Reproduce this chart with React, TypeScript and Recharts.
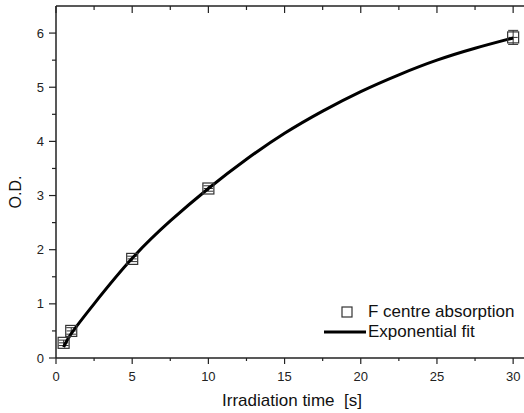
import React from 'react';
import { ComposedChart, Scatter, Line, XAxis, YAxis, ErrorBar, Legend, Label } from 'recharts';

const times = [0.5, 1, 5, 10, 30];
const odValues = [0.28, 0.5, 1.83, 3.13, 5.92];
const odErrors = [0.05, 0.06, 0.05, 0.05, 0.13];
const timeErrors = [0.3, 0.3, 0.3, 0.3, 0.3];

const fitTimes = [0.5, 1, 2.5, 5, 7.5, 10, 12.5, 15, 17.5, 20, 22.5, 25, 27.5, 30];
const fitValues = [0.2, 0.45, 1.0, 1.84, 2.53, 3.13, 3.67, 4.15, 4.56, 4.92, 5.23, 5.5, 5.72, 5.91];

const xTicks = [0, 2.5, 5, 7.5, 10, 12.5, 15, 17.5, 20, 22.5, 25, 27.5, 30];
const yTicks = [0, 0.5, 1, 1.5, 2, 2.5, 3, 3.5, 4, 4.5, 5, 5.5, 6];

const seriesNames = ['F centre absorption', 'Exponential fit'];
const xLabel = 'Irradiation time  [s]';
const yLabel = 'O.D.';

const measured = times.map((t, i) => ({ x: t, y: odValues[i], ey: odErrors[i], ex: timeErrors[i] }));
const fit = fitTimes.map((t, i) => ({ x: t, y: fitValues[i] }));

const FONT = '"Liberation Sans", Arial, sans-serif';
const AX = '#222';

const BottomTick = (props: any) => {
  const { x, y, payload } = props;
  const major = payload.value % 5 === 0;
  return (
    <g>
      <line x1={x} x2={x} y1={y} y2={y + (major ? 6 : 3)} stroke={AX} strokeWidth={1.2} />
      {major && (
        <text x={x} y={y + 23} textAnchor="middle" fontSize={13} fill="#222" fontFamily={FONT}>
          {payload.value}
        </text>
      )}
    </g>
  );
};

const TopTick = (props: any) => {
  const { x, y, payload } = props;
  const major = payload.value % 5 === 0;
  return <line x1={x} x2={x} y1={y} y2={y + (major ? 7 : 4)} stroke={AX} strokeWidth={1.2} />;
};

const LeftTick = (props: any) => {
  const { x, y, payload } = props;
  const major = payload.value % 1 === 0;
  return (
    <g>
      <line x1={x - (major ? 7 : 4)} x2={x} y1={y} y2={y} stroke={AX} strokeWidth={1.2} />
      {major && (
        <text x={x - 12} y={y + 4.5} textAnchor="end" fontSize={13} fill="#222" fontFamily={FONT}>
          {payload.value}
        </text>
      )}
    </g>
  );
};

const SquareShape = (props: any) => {
  const { cx, cy } = props;
  const s = 11;
  return <rect x={cx - s / 2} y={cy - s / 2} width={s} height={s} fill="none" stroke="#333" strokeWidth={1.2} />;
};

const renderLegend = (props: any) => {
  const items = [...(props.payload || [])].sort(
    (a: any, b: any) => seriesNames.indexOf(a.value) - seriesNames.indexOf(b.value)
  );
  return (
    <div style={{ fontFamily: FONT, fontSize: 17, color: '#111', lineHeight: '20px' }}>
      {items.map((entry: any, i: number) => (
        <div key={i} style={{ display: 'flex', alignItems: 'center', height: 20 }}>
          <svg width={44} height={20} style={{ display: 'block' }}>
            {entry.type === 'line' ? (
              <line x1={0} x2={42} y1={10} y2={10} stroke="#000" strokeWidth={3} />
            ) : (
              <rect x={18} y={5} width={10} height={10} fill="none" stroke="#333" strokeWidth={1.2} />
            )}
          </svg>
          <span>{entry.value}</span>
        </div>
      ))}
    </div>
  );
};

const XLabelContent = (props: any) => {
  const { viewBox } = props;
  return (
    <text x={292} y={viewBox.y + 48} textAnchor="middle" fontSize={17} fill="#111" fontFamily={FONT} xmlSpace="preserve" style={{ whiteSpace: 'pre' }}>
      {xLabel}
    </text>
  );
};

const YLabelContent = (props: any) => {
  const { viewBox } = props;
  const cx = viewBox.x + 21;
  const cy = 192;
  return (
    <text x={cx} y={cy} transform={`rotate(-90 ${cx} ${cy})`} textAnchor="middle" fontSize={16} fill="#111" fontFamily={FONT}>
      {yLabel}
    </text>
  );
};

export default function App() {
  return (
    <div style={{ position: 'absolute', left: 0, top: 0, width: 524, height: 413, overflow: 'hidden', background: '#fff' }}>
      <ComposedChart width={560} height={413} margin={{ top: 0, right: 24, bottom: 0, left: 0 }} style={{ fontFamily: FONT }}>
        <XAxis
          xAxisId="b"
          type="number"
          dataKey="x"
          domain={[0, 31.5]}
          ticks={xTicks}
          interval={0}
          height={55}
          tickSize={0}
          tickMargin={0}
          tick={<BottomTick />}
          axisLine={{ stroke: AX, strokeWidth: 1.5 }}
          allowDataOverflow
        >
          <Label content={<XLabelContent />} />
        </XAxis>
        <XAxis
          xAxisId="t"
          orientation="top"
          type="number"
          dataKey="x"
          domain={[0, 31.5]}
          ticks={xTicks}
          interval={0}
          height={6}
          tickSize={0}
          tickMargin={0}
          tick={<TopTick />}
          axisLine={{ stroke: AX, strokeWidth: 1.5 }}
          allowDataOverflow
        />
        <YAxis
          yAxisId="l"
          type="number"
          domain={[0, 6.5]}
          ticks={yTicks}
          interval={0}
          width={56}
          tickSize={0}
          tickMargin={0}
          tick={<LeftTick />}
          axisLine={{ stroke: AX, strokeWidth: 1.5 }}
          allowDataOverflow
        >
          <Label content={<YLabelContent />} />
        </YAxis>
        <Scatter
          name={seriesNames[0]}
          data={measured}
          dataKey="y"
          xAxisId="b"
          yAxisId="l"
          legendType="square"
          shape={<SquareShape />}
          isAnimationActive={false}
        >
          <ErrorBar dataKey="ey" direction="y" width={5} stroke="#333" strokeWidth={1} />
          <ErrorBar dataKey="ex" direction="x" width={0} stroke="#333" strokeWidth={1} />
        </Scatter>
        <Line
          name={seriesNames[1]}
          data={fit}
          dataKey="y"
          xAxisId="b"
          yAxisId="l"
          type="natural"
          stroke="#000"
          strokeWidth={3}
          dot={false}
          legendType="line"
          isAnimationActive={false}
        />
        <Legend
          layout="vertical"
          align="center"
          verticalAlign="middle"
          content={renderLegend}
          wrapperStyle={{ left: 324, top: 302, width: 'auto' }}
        />
      </ComposedChart>
    </div>
  );
}
